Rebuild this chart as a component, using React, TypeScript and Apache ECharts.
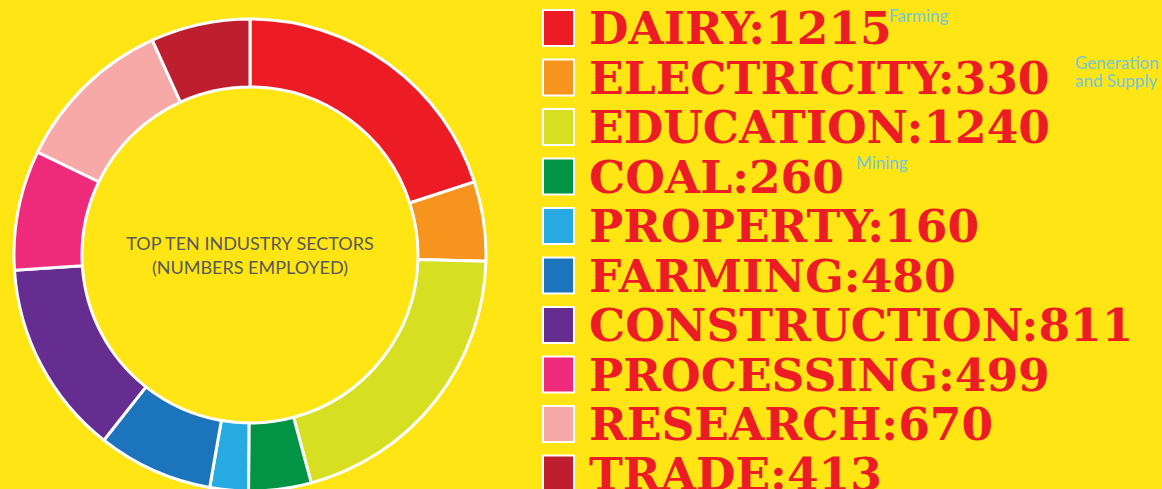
import React, { useEffect, useRef } from "react";
import * as echarts from "echarts";

const categories = ["DAIRY", "ELECTRICITY", "EDUCATION", "COAL", "PROPERTY", "FARMING", "CONSTRUCTION", "PROCESSING", "RESEARCH", "TRADE"];
const values = [1215, 330, 1240, 260, 160, 480, 811, 499, 670, 413];
const colors = ["#ED1C24", "#F7941D", "#D7DF23", "#009444", "#27AAE1", "#1C75BC", "#662D91", "#EE2A7B", "#F7A9A8", "#BE1E2D"];
const centerTitle = ["TOP TEN INDUSTRY SECTORS", "(NUMBERS EMPLOYED)"];
const noteFarming = "Farming";
const noteElectricity = ["Generation", "and Supply"];
const noteCoal = "Mining";

export default function App() {
  const ref = useRef<HTMLDivElement>(null);
  useEffect(() => {
    document.body.style.margin = "0";
    const chart = echarts.init(ref.current!, null, { renderer: "svg" });
    const noteStyle = { fill: "#74C7D6", fontFamily: "Lato", fontSize: 17 };
    chart.setOption({
      animation: false,
      backgroundColor: "#FFE514",
      color: colors,
      legend: {
        orient: "vertical",
        left: 542,
        top: 5,
        height: 600,
        padding: 0,
        itemWidth: 31,
        itemHeight: 36,
        itemGap: 3.5,
        icon: "rect",
        selectedMode: false,
        itemStyle: { borderColor: "#ffffff", borderWidth: 2 },
        formatter: (name: string) => `${name}:${values[categories.indexOf(name)]}`,
        textStyle: {
          color: "#ED1C24",
          fontFamily: "DejaVu Serif",
          fontWeight: "bold",
          fontSize: 45.5,
          padding: [0, 0, 0, 10],
        },
      },
      series: [
        {
          type: "pie",
          center: [250, 255],
          radius: [168, 236],
          startAngle: 90,
          clockwise: true,
          label: { show: false },
          labelLine: { show: false },
          emphasis: { disabled: true },
          itemStyle: { borderColor: "#ffffff", borderWidth: 3 },
          data: categories.map((c, i) => ({ name: c, value: values[i] })),
        },
      ],
      graphic: [
        {
          type: "text",
          x: 250,
          y: 255,
          style: {
            text: centerTitle.join("\n"),
            fill: "#58595B",
            fontFamily: "Lato",
            fontSize: 18,
            lineHeight: 24,
            align: "center",
            verticalAlign: "middle",
          },
        },
        { type: "text", x: 889, y: 7, style: { ...noteStyle, text: noteFarming } },
        { type: "text", x: 1075, y: 53, style: { ...noteStyle, text: noteElectricity.join("\n"), lineHeight: 18 } },
        { type: "text", x: 856, y: 154, style: { ...noteStyle, text: noteCoal } },
      ],
    });
    return () => chart.dispose();
  }, []);
  return <div ref={ref} style={{ width: 1162, height: 489 }} />;
}
